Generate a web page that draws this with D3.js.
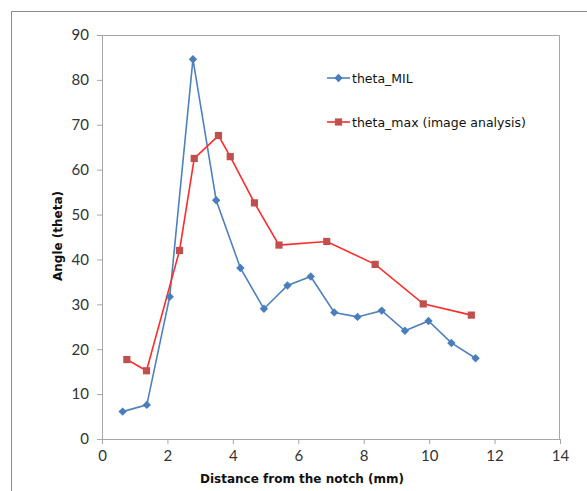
<!DOCTYPE html>
<html>
<head>
<meta charset="utf-8">
<script src="https://cdn.jsdelivr.net/npm/d3@7"></script>
<style>
  body { margin: 0; background: #fff; }
  .tick text { font-family: Lato, "Open Sans", sans-serif; font-size: 15px; fill: #333; }
  .axis path, .axis line { stroke: #a6a6a6; }
  .title { font-family: "DejaVu Sans", sans-serif; font-weight: bold; font-size: 12px; fill: #111; }
  .legend text { font-family: "DejaVu Sans", sans-serif; font-size: 12.5px; fill: #111; }
</style>
</head>
<body>
<div id="chart"></div>
<script>
// data
var milX = [0.63, 1.37, 2.07, 2.78, 3.49, 4.23, 4.95, 5.67, 6.38, 7.10, 7.81, 8.55, 9.26, 9.98, 10.68, 11.42];
var milY = [6.1, 7.6, 31.7, 84.6, 53.2, 38.1, 29.0, 34.2, 36.2, 28.2, 27.2, 28.6, 24.1, 26.3, 21.4, 18.0];
var maxX = [0.76, 1.36, 2.37, 2.82, 3.56, 3.92, 4.66, 5.41, 6.87, 8.35, 9.82, 11.29];
var maxY = [17.7, 15.2, 42.0, 62.5, 67.6, 62.9, 52.6, 43.2, 44.0, 38.9, 30.1, 27.6];
var xTicks = [0, 2, 4, 6, 8, 10, 12, 14];
var yTicks = [0, 10, 20, 30, 40, 50, 60, 70, 80, 90];

var W = 587, H = 491;
var margin = {top: 35, right: 27, bottom: 52, left: 102},
    width = W - margin.left - margin.right,
    height = H - margin.top - margin.bottom;

var svg = d3.select("#chart").append("svg")
    .attr("width", W)
    .attr("height", H);

// outer chart border (only top/left visible in the frame)
svg.append("path")
   .attr("d", "M11.5," + H + "V11.5H" + W)
   .attr("fill", "none")
   .attr("stroke", "#8c8c8c");

var g = svg.append("g")
    .attr("transform", "translate(" + margin.left + "," + margin.top + ")");

var x = d3.scaleLinear().domain([0, 14]).range([0, width]);
var y = d3.scaleLinear().domain([0, 90]).range([height, 0]);

// plot frame top/right
g.append("path")
 .attr("d", "M0,0.5H" + (width - 0.5) + "V" + height)
 .attr("fill", "none")
 .attr("stroke", "#a6a6a6");

// axes
g.append("g")
 .attr("class", "axis")
 .attr("transform", "translate(0," + height + ")")
 .call(d3.axisBottom(x).tickValues(xTicks).tickSize(5).tickSizeOuter(0).tickPadding(6));

g.append("g")
 .attr("class", "axis")
 .call(d3.axisLeft(y).tickValues(yTicks).tickSize(5).tickSizeOuter(0).tickPadding(8));

// axis titles
svg.append("text")
   .attr("class", "title")
   .attr("x", 302)
   .attr("y", 483)
   .attr("text-anchor", "middle")
   .text("Distance from the notch (mm)");

svg.append("text")
   .attr("class", "title")
   .attr("transform", "translate(62,236) rotate(-90)")
   .attr("text-anchor", "middle")
   .text("Angle (theta)");

var line = d3.line()
    .x(function(d) { return x(d[0]); })
    .y(function(d) { return y(d[1]); });

var mil = d3.zip(milX, milY);
var mx = d3.zip(maxX, maxY);

var blue = "#4f81bd", redLine = "#ff2b2b", redMark = "#c0504d";

g.append("path").datum(mil)
 .attr("d", line).attr("fill", "none")
 .attr("stroke", blue).attr("stroke-width", 1.6);

g.append("path").datum(mx)
 .attr("d", line).attr("fill", "none")
 .attr("stroke", redLine).attr("stroke-width", 1.6);

// excel-style diamond = square turned 45deg
var diamond = "M0,-4.2L4.2,0L0,4.2L-4.2,0Z";
var square = d3.symbol().type(d3.symbolSquare).size(52);

g.selectAll(".mil").data(mil).enter().append("path")
 .attr("class", "mil")
 .attr("d", diamond)
 .attr("transform", function(d) { return "translate(" + x(d[0]) + "," + y(d[1]) + ")"; })
 .attr("fill", "#4a7ebb");

g.selectAll(".mx").data(mx).enter().append("path")
 .attr("class", "mx")
 .attr("d", square)
 .attr("transform", function(d) { return "translate(" + x(d[0]) + "," + y(d[1]) + ")"; })
 .attr("fill", redMark);

// legend
var legend = svg.append("g").attr("class", "legend");
var items = [
  {name: "theta_MIL", color: blue, mark: diamond, fill: "#4a7ebb", y: 78},
  {name: "theta_max (image analysis)", color: redLine, mark: square, fill: redMark, y: 122}
];
items.forEach(function(it) {
  legend.append("line")
        .attr("x1", 327).attr("x2", 350)
        .attr("y1", it.y).attr("y2", it.y)
        .attr("stroke", it.color).attr("stroke-width", 1.6);
  legend.append("path")
        .attr("d", it.mark)
        .attr("transform", "translate(338.5," + it.y + ")")
        .attr("fill", it.fill);
  legend.append("text")
        .attr("x", 352).attr("y", it.y + 5)
        .text(it.name);
});
</script>
</body>
</html>
